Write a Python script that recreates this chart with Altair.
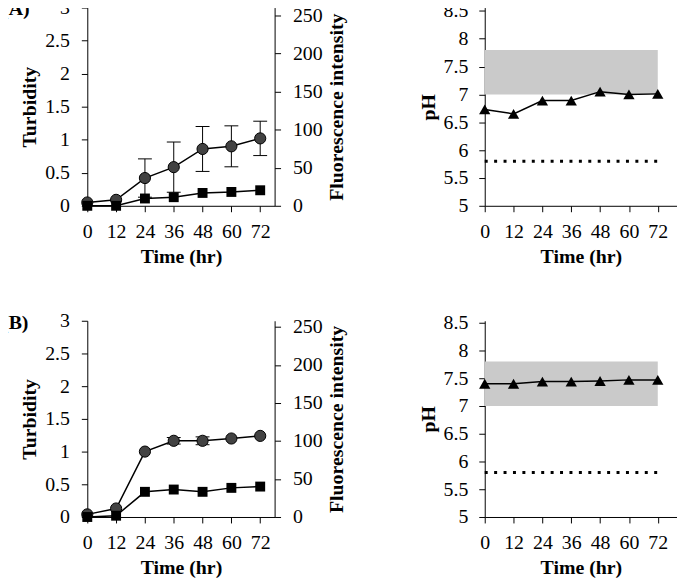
import altair as alt
import pandas as pd

# ---------------- data ----------------
time = [0, 12, 24, 36, 48, 60, 72]

# panel (A)
turb_a = [0.05, 0.09, 0.42, 0.585, 0.86, 0.90, 1.02]
turb_err_a = [0.0, 0.0, 0.29, 0.38, 0.34, 0.31, 0.26]
fluor_a = [0.0, 0.0, 9.6, 11.3, 16.9, 18.2, 20.4]
ph_a = [6.73, 6.65, 6.89, 6.89, 7.05, 7.00, 7.01]

# panel (B)
turb_b = [0.04, 0.13, 1.00, 1.165, 1.165, 1.20, 1.24]
turb_err_b = [0.0, 0.0, 0.02, 0.05, 0.06, 0.03, 0.02]
fluor_b = [0.0, 1.7, 33.1, 36.1, 33.1, 38.3, 40.0]
ph_b = [7.40, 7.40, 7.44, 7.44, 7.45, 7.47, 7.47]

panel_labels = ["(A)", "(B)"]
ph_band = [7.0, 7.8]
ph_threshold = 5.8

turb_ticks = [0, 0.5, 1, 1.5, 2, 2.5, 3]
fluor_ticks = [0, 50, 100, 150, 200, 250]
ph_ticks = [5, 5.5, 6, 6.5, 7, 7.5, 8, 8.5]

FONT = "Liberation Serif"


def x_axis():
    return alt.Axis(values=time, title="Time (hr)", labelFlush=False,
                    labelOverlap=False, labelPadding=10, titlePadding=5)


def growth_panel(turb, err, fluor, fl_max, height, label):
    df = pd.DataFrame({
        "time": time,
        "turb": turb,
        "lo": [t - e for t, e in zip(turb, err)],
        "hi": [t + e for t, e in zip(turb, err)],
        "err": err,
        "fluor": fluor,
    })
    base = alt.Chart(df)
    xscale = alt.Scale(domain=[0, 78], nice=False, zero=False)
    xaxis = x_axis()
    x = alt.X("time:Q", scale=xscale, axis=xaxis, title="Time (hr)")
    yscale = alt.Scale(domain=[0, 3], nice=False, zero=False)
    yaxis = alt.Axis(values=turb_ticks, format="~g", labelFlush=False,
                     labelOverlap=False, labelPadding=12, titlePadding=5,
                     orient="left")

    def Y(field):
        return alt.Y(field, scale=yscale, axis=yaxis, title="Turbidity")

    line_c = base.mark_line(color="black", strokeWidth=1.5).encode(x=x, y=Y("turb:Q"))
    rule = base.mark_rule(color="black", strokeWidth=1).encode(
        x=x, y=Y("lo:Q"), y2="hi:Q")
    caps_src = base.transform_filter("datum.err >= 0.04")
    cap_lo = caps_src.mark_point(shape="M-1,0L1,0", size=196, filled=False,
                                 color="black", strokeWidth=1, opacity=1).encode(
        x=x, y=Y("lo:Q"))
    cap_hi = caps_src.mark_point(shape="M-1,0L1,0", size=196, filled=False,
                                 color="black", strokeWidth=1, opacity=1).encode(
        x=x, y=Y("hi:Q"))
    pts_c = base.mark_point(shape="circle", filled=True, size=127, fill="#424242",
                            stroke="black", strokeWidth=1, opacity=1).encode(
        x=x, y=Y("turb:Q"))
    turb_layer = alt.layer(line_c, rule, cap_lo, cap_hi, pts_c)

    fscale = alt.Scale(domain=[0, fl_max], nice=False, zero=False)
    faxis = alt.Axis(values=fluor_ticks, orient="right", labelFlush=False,
                     labelOverlap=False, labelPadding=12, titlePadding=5,
                     titleAngle=270, titleBaseline="top")
    yf = alt.Y("fluor:Q", scale=fscale, axis=faxis, title="Fluorescence intensity")
    line_f = base.mark_line(color="black", strokeWidth=1.5).encode(x=x, y=yf)
    pts_f = base.mark_point(shape="square", filled=True, size=100, color="black",
                            opacity=1).encode(x=x, y=yf)
    fl_layer = alt.layer(line_f, pts_f)

    lab = alt.Chart(pd.DataFrame({"label": [label]})).mark_text(
        font=FONT, fontSize=20, fontWeight="bold", align="left",
        baseline="middle", color="black").encode(
        text="label:N", x=alt.value(-86), y=alt.value(2))

    return alt.layer(turb_layer, fl_layer, lab).resolve_scale(y="independent").properties(
        width=189, height=height)


def ph_panel(ph, ph_max, height):
    df = pd.DataFrame({"time": time, "ph": ph})
    xscale = alt.Scale(domain=[0, 80], nice=False, zero=False)
    xaxis = x_axis()

    def X(field):
        return alt.X(field, scale=xscale, axis=xaxis, title="Time (hr)")

    yscale = alt.Scale(domain=[5, ph_max], nice=False, zero=False)
    yaxis = alt.Axis(values=ph_ticks, format="~g", labelFlush=False,
                     labelOverlap=False, labelPadding=11, titlePadding=5)

    def Y(field):
        return alt.Y(field, scale=yscale, axis=yaxis, title="pH")

    band_df = pd.DataFrame({"x0": [time[0]], "x1": [time[-1]],
                            "lo": [ph_band[0]], "hi": [ph_band[1]]})
    band = alt.Chart(band_df).mark_rect(color="#cacaca").encode(
        x=X("x0:Q"), x2="x1:Q", y=Y("lo:Q"), y2="hi:Q")
    thr_df = pd.DataFrame({"x0": [time[0]], "x1": [time[-1]], "v": [ph_threshold]})
    thr = alt.Chart(thr_df).mark_rule(color="black", strokeWidth=3,
                                      strokeDash=[3, 6.5], strokeCap="butt").encode(
        x=X("x0:Q"), x2="x1:Q", y=Y("v:Q"))
    base = alt.Chart(df)
    line = base.mark_line(color="black", strokeWidth=1.5).encode(x=X("time:Q"), y=Y("ph:Q"))
    pts = base.mark_point(shape="triangle-up", filled=True, size=130, color="black",
                          opacity=1).encode(x=X("time:Q"), y=Y("ph:Q"))
    return alt.layer(band, thr, line, pts).properties(width=194, height=height)


a1 = growth_panel(turb_a, turb_err_a, fluor_a, 260.5, 200, panel_labels[0])
a2 = ph_panel(ph_a, 8.56, 200)
b1 = growth_panel(turb_b, turb_err_b, fluor_b, 258, 198, panel_labels[1])
b2 = ph_panel(ph_b, 8.535, 198)

chart = alt.concat(a1, a2, b1, b2, columns=2,
                   spacing={"row": 116, "column": 212}, bounds="flush").properties(
    padding={"left": -6, "top": -13, "right": 0, "bottom": 0}
).configure_view(stroke=None).configure_axis(
    grid=False, domainColor="black", domainWidth=1, tickColor="black", tickSize=6,
    tickWidth=1, labelColor="black", titleColor="black", labelFont=FONT,
    labelFontSize=20, titleFont=FONT, titleFontSize=20, titleFontWeight="bold",
)

chart.save("out.html", embed_options={"renderer": "svg", "actions": False})
